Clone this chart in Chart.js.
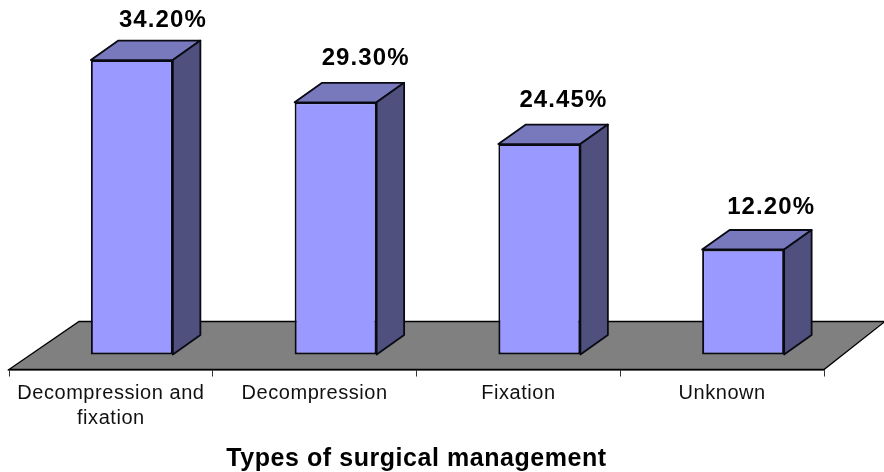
<!DOCTYPE html>
<html>
<head>
<meta charset="utf-8">
<style>html,body{margin:0;padding:0;background:#fff}canvas{display:block}</style>
<script src="https://cdn.jsdelivr.net/npm/chart.js@4"></script>
</head>
<body>
<canvas id="c" width="884" height="472"></canvas>
<script>
const categories = [["Decompression and","fixation"],"Decompression","Fixation","Unknown"];
const values = [34.20,29.30,24.45,12.20];
const valueLabels = ["34.20%","29.30%","24.45%","12.20%"];
const axisTitle = "Types of surgical management";
const labelShiftX = [31,30,24,28];
const labelShiftY = [-40,-44,-44,-42];

const FONT = '"Liberation Sans", Arial, sans-serif';
const depthX = 27.5, depthY = 19.5, shiftX = 21;

const fake3d = {
  id:'fake3d',
  beforeDraw(chart){ chart.ctx.letterSpacing='0.55px'; },
  beforeDatasetsDraw(chart){
    const {ctx,chartArea:a} = chart;
    ctx.save();
    ctx.fillStyle='#808080';ctx.strokeStyle='#000';ctx.lineWidth=1.3;
    ctx.beginPath();
    ctx.moveTo(a.left,a.bottom);ctx.lineTo(a.left+70,a.bottom-48);
    ctx.lineTo(chart.width+1,a.bottom-48);ctx.lineTo(a.right,a.bottom);
    ctx.closePath();ctx.fill();ctx.stroke();
    ctx.translate(shiftX,0);
    ctx.lineJoin='round';ctx.lineWidth=1.8;ctx.strokeStyle='#0a0a14';
    chart.getDatasetMeta(0).data.forEach(b=>{
      const l=b.x-b.width/2,r=b.x+b.width/2,t=b.y,bt=b.base;
      ctx.fillStyle='#7878bc';
      ctx.beginPath();ctx.moveTo(l,t);ctx.lineTo(l+depthX,t-depthY);ctx.lineTo(r+depthX,t-depthY);ctx.lineTo(r,t);ctx.closePath();ctx.fill();ctx.stroke();
      ctx.fillStyle='#50507f';
      ctx.beginPath();ctx.moveTo(r,t);ctx.lineTo(r+depthX,t-depthY);ctx.lineTo(r+depthX,bt-depthY);ctx.lineTo(r,bt);ctx.closePath();ctx.fill();ctx.stroke();
    });
    // keep the shift active for the bars themselves
  },
  afterDatasetsDraw(chart){
    const {ctx} = chart;
    ctx.restore();
    ctx.save();
    ctx.letterSpacing='1.1px';
    ctx.fillStyle='#000';ctx.font='bold 24px '+FONT;ctx.textAlign='center';ctx.textBaseline='middle';
    chart.getDatasetMeta(0).data.forEach((b,i)=>{
      ctx.fillText(valueLabels[i],b.x+shiftX+labelShiftX[i],b.y+labelShiftY[i]);
    });
    ctx.restore();
  },
  afterDraw(chart){ chart.ctx.letterSpacing='0px'; }
};

new Chart(document.getElementById('c'),{
  type:'bar',
  data:{labels:categories,datasets:[{
    data:values,
    backgroundColor:'#9999ff',
    borderColor:'#0a0a14',
    borderWidth:2,
    borderSkipped:false,
    barPercentage:0.4025,
    categoryPercentage:1
  }]},
  options:{
    responsive:false,animation:false,
    layout:{padding:{left:9,right:60,top:0,bottom:0}},
    plugins:{legend:{display:false},tooltip:{enabled:false},title:{display:false}},
    scales:{
      y:{display:false,min:-1.74,max:41.18},
      x:{
        afterFit(s){s.height=102.5;},
        border:{display:true,color:'#000',width:1.5},
        grid:{display:true,drawOnChartArea:false,drawTicks:true,tickLength:7,color:'#333',offset:true},
        ticks:{autoSkip:false,maxRotation:0,minRotation:0,color:'#111',padding:4,font:{family:FONT,size:20,lineHeight:1.25}},
        title:{display:true,text:axisTitle,color:'#000',font:{family:FONT,size:25,weight:'bold',lineHeight:1.05},padding:{top:13,bottom:0}}
      }
    }
  },
  plugins:[fake3d]
});
</script>
</body>
</html>
